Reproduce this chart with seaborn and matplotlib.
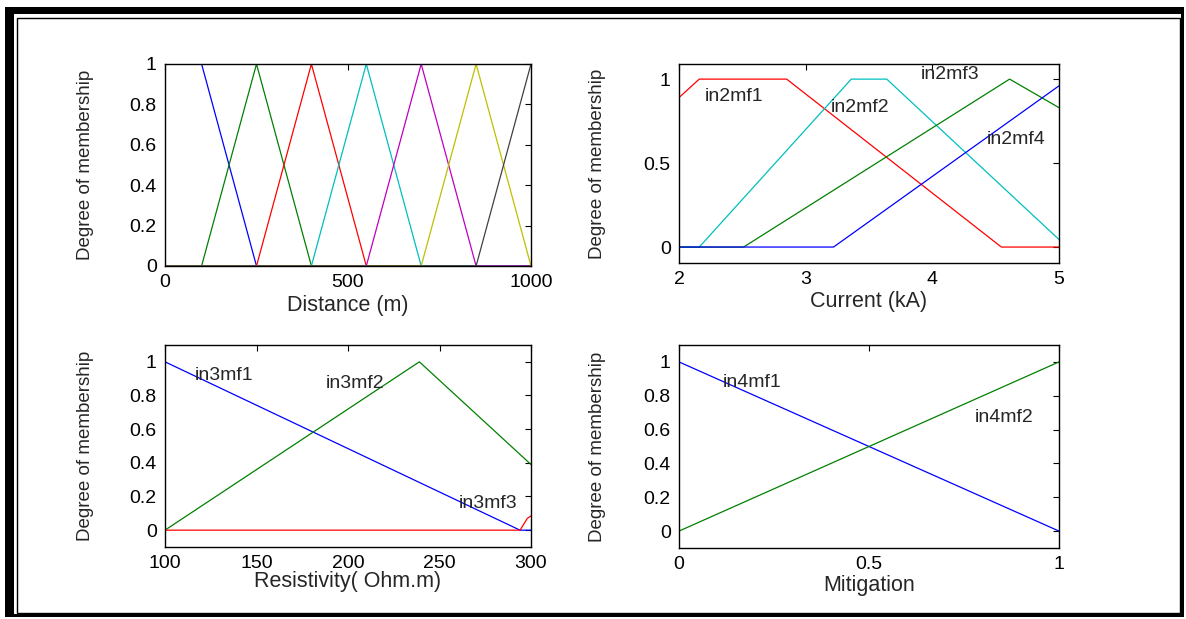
import matplotlib
matplotlib.use("Agg")
import matplotlib.pyplot as plt
from matplotlib.patches import Rectangle
import seaborn as sns
import pandas as pd

sns.set_style("white")
plt.rcParams['font.family'] = ['Liberation Sans', 'DejaVu Sans']

# ---- data ----
# Panel 1: Distance (m)
dist_x = {
    'b': [0, 100, 250, 1000],
    'g': [0, 100, 250, 400, 1000],
    'r': [0, 250, 400, 550, 1000],
    'c': [0, 400, 550, 700, 1000],
    'm': [0, 550, 700, 850, 1000],
    'y': [0, 700, 850, 1000],
    'k': [0, 850, 1000],
}
dist_y = {
    'b': [1, 1, 0, 0],
    'g': [0, 0, 1, 0, 0],
    'r': [0, 0, 1, 0, 0],
    'c': [0, 0, 1, 0, 0],
    'm': [0, 0, 1, 0, 0],
    'y': [0, 0, 1, 0],
    'k': [0, 0, 1],
}
# Panel 2: Current (kA)
cur_x = {
    'in2mf1': [2.0, 2.16, 2.85, 4.545, 5.0],
    'in2mf2': [2.0, 2.16, 3.36, 3.64, 5.0],
    'in2mf3': [2.0, 2.51, 4.61, 5.0],
    'in2mf4': [2.0, 3.22, 5.0],
}
cur_y = {
    'in2mf1': [0.89, 1, 1, 0, 0],
    'in2mf2': [0, 0, 1, 1, 0.045],
    'in2mf3': [0, 0, 1, 0.83],
    'in2mf4': [0, 0, 0.96],
}
# Panel 3: Resistivity (Ohm.m)
res_x = {
    'in3mf1': [100, 294, 300],
    'in3mf2': [100, 239, 300],
    'in3mf3': [100, 294, 298, 300],
}
res_y = {
    'in3mf1': [1, 0, 0],
    'in3mf2': [0, 1, 0.39],
    'in3mf3': [0, 0, 0.07, 0.085],
}
# Panel 4: Mitigation
mit_x = {'in4mf1': [0, 1], 'in4mf2': [0, 1]}
mit_y = {'in4mf1': [1, 0], 'in4mf2': [0, 1]}

C = {'b': (0, 0, 1), 'g': (0, 0.5, 0), 'r': (1, 0, 0), 'c': (0, 0.75, 0.75),
     'm': (0.75, 0, 0.75), 'y': (0.75, 0.75, 0), 'k': (0.25, 0.25, 0.25)}

W, H = 1186, 619
fig = plt.figure(figsize=(W / 100, H / 100), dpi=100)


def px_axes(x0, y0, x1, y1):
    return fig.add_axes([x0 / W, 1 - y1 / H, (x1 - x0) / W, (y1 - y0) / H])


TICK = 14
LAB = 15.5


def style(ax, xlim, ylim, xticks, yticks, xlabel, xlab_off, height, ylab_x_off, width):
    ax.set_xlim(*xlim)
    ax.set_ylim(*ylim)
    ax.set_xticks(xticks)
    ax.set_yticks(yticks)
    ax.set_xticklabels([('%g' % t) for t in xticks])
    ax.set_yticklabels([('%g' % t) for t in yticks])
    ax.tick_params(direction='in', top=True, right=True, length=4, width=0.8,
                   labelsize=TICK, pad=6, colors='black')
    for s in ax.spines.values():
        s.set_visible(True)
        s.set_color('black')
        s.set_linewidth(1.0)
    ax.set_xlabel(xlabel, fontsize=LAB, va='center')
    ax.xaxis.set_label_coords(0.5, -xlab_off / height)
    ax.set_ylabel('Degree of membership', fontsize=13.5, va='center')
    ax.yaxis.set_label_coords(-ylab_x_off / width, 0.5)


def draw(ax, xs, ys, colors):
    for key, col in zip(xs.keys(), colors):
        df = pd.DataFrame({'x': xs[key], 'y': ys[key]})
        sns.lineplot(data=df, x='x', y='y', color=col, linewidth=0.9, ax=ax,
                     sort=False, estimator=None, legend=False)


# Panel 1
ax1 = px_axes(165, 64, 531, 266)
draw(ax1, dist_x, dist_y, [C[k] for k in dist_x])
style(ax1, (0, 1000), (0, 1), [0, 500, 1000], [0, 0.2, 0.4, 0.6, 0.8, 1],
      'Distance (m)', 39, 202, 79, 366)

# Panel 2
ax2 = px_axes(679, 64, 1059, 263)
draw(ax2, cur_x, cur_y, [C['r'], C['c'], C['g'], C['b']])
style(ax2, (2, 5), (-0.095, 1.09), [2, 3, 4, 5], [0, 0.5, 1],
      'Current (kA)', 39, 199, 81, 380)
for lab, x, y in [('in2mf1', 2.2, 0.895), ('in2mf2', 3.2, 0.83),
                  ('in2mf3', 3.905, 1.03), ('in2mf4', 4.43, 0.64)]:
    ax2.text(x, y, lab, fontsize=TICK, va='center', ha='left')

# Panel 3
ax3 = px_axes(165, 345, 531, 547)
draw(ax3, res_x, res_y, [C['b'], C['g'], C['r']])
style(ax3, (100, 300), (-0.1, 1.1), [100, 150, 200, 250, 300],
      [0, 0.2, 0.4, 0.6, 0.8, 1], 'Resistivity( Ohm.m)', 34, 202, 79, 366)
for lab, x, y in [('in3mf1', 116, 0.92), ('in3mf2', 188, 0.87),
                  ('in3mf3', 260.6, 0.16)]:
    ax3.text(x, y, lab, fontsize=TICK, va='center', ha='left', clip_on=False)

# Panel 4
ax4 = px_axes(679, 345, 1059, 548)
draw(ax4, mit_x, mit_y, [C['b'], C['g']])
style(ax4, (0, 1), (-0.1, 1.1), [0, 0.5, 1], [0, 0.2, 0.4, 0.6, 0.8, 1],
      'Mitigation', 38, 203, 81, 380)
for lab, x, y in [('in4mf1', 0.114, 0.88), ('in4mf2', 0.778, 0.67)]:
    ax4.text(x, y, lab, fontsize=TICK, va='center', ha='left')


# ---- page border ----
def prect(x0, y0, x1, y1, fill=True, lw=0):
    r = Rectangle((x0 / W, 1 - y1 / H), (x1 - x0) / W, (y1 - y0) / H,
                  transform=fig.transFigure, facecolor='black' if fill else 'none',
                  edgecolor='black', linewidth=lw, zorder=10)
    fig.add_artist(r)


# thick outer frame
prect(5, 7, 14, 617)       # left
prect(5, 7, 1184, 14)      # top
prect(1181, 7, 1184, 617)  # right
prect(5, 614, 1184, 617)   # bottom
# thin inner frame
prect(16.5, 17.5, 1179.5, 612.8, fill=False, lw=1.0)

fig.savefig('out.png', dpi=100)
